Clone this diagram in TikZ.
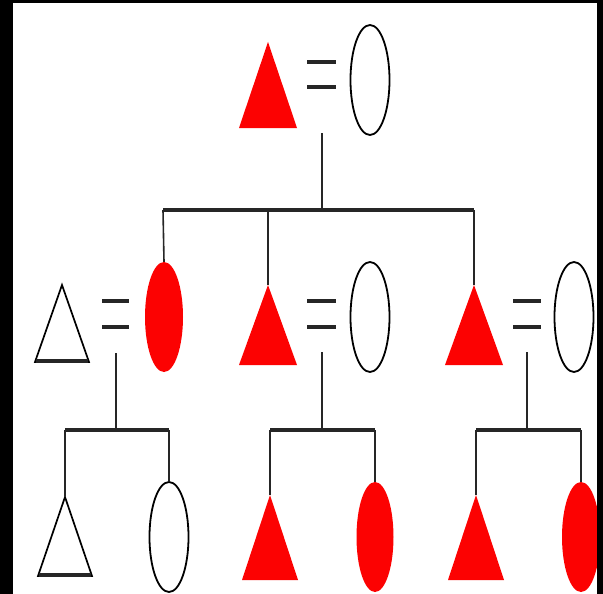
\documentclass[tikz,border=0pt]{standalone}
\usetikzlibrary{shapes.geometric}
\definecolor{pedred}{RGB}{252,2,2}
\begin{document}
\begin{tikzpicture}[x=1pt,y=-1pt,
  female/.style={ellipse,inner sep=0pt,minimum width=39pt,minimum height=110pt},
  fem-aff/.style={female,fill=pedred},
  fem-un/.style={female,draw=black,line width=1.8pt,fill=white},
  conn/.style={draw=black!85,line width=1.6pt},
  sibbar/.style={draw=black!85,line width=3.8pt},
  eqbar/.style={draw=black!85,line width=4.8pt},
  maleaff/.style={fill=pedred},
  maleun/.style={draw=black,line width=1.7pt,fill=white,line join=miter},
  basebar/.style={draw=black!85,line width=3.5pt}]
% frame
\fill[black] (0,0) rectangle (603,594);
\fill[white] (13,3) rectangle (597,594);
\useasboundingbox (0,0) rectangle (603,594);

% ---------- generation 1 ----------
\coordinate (g1m) at (268,42);
\fill[maleaff] (g1m) -- ++(29,86) -- ++(-58,0) -- cycle;
\draw[eqbar] (307,62) -- (336,62) (307,87) -- (336,87);
\node[fem-un] (g1f) at (370,80) {};
\coordinate (g1d) at (322,133);
\coordinate (g1bar) at (322,210);
\draw[conn] (g1d) -- (g1bar);
\coordinate (bl1) at (163,210);
\coordinate (br1) at (474,210);
\draw[sibbar] (bl1) -- (br1);

% ---------- generation 2 ----------
% left couple
\coordinate (g2am) at (62,285);
\filldraw[maleun] (g2am) -- ++(27,77) -- ++(-54,0) -- cycle;
\draw[basebar] (36,361) -- (88,361);
\draw[eqbar] (102,301) -- (129,301) (102,327) -- (129,327);
\node[fem-aff,minimum width=38pt] (g2af) at (164,317) {};
% middle couple
\coordinate (g2bm) at (268,285);
\fill[maleaff] (g2bm) -- ++(29,80) -- ++(-58,0) -- cycle;
\draw[eqbar] (307,301) -- (336,301) (307,327) -- (336,327);
\node[fem-un] (g2bf) at (370,317) {};
% right couple
\coordinate (g2cm) at (474,285);
\fill[maleaff] (g2cm) -- ++(29,80) -- ++(-58,0) -- cycle;
\draw[eqbar] (513,301) -- (541,301) (513,327) -- (541,327);
\node[fem-un] (g2cf) at (574,317) {};

\draw[conn] (bl1) -- (g2af.north);
\draw[conn] (268,210) -- (g2bm);
\draw[conn] (br1) -- (g2cm);

% ---------- generation 3 ----------
% left family
\coordinate (d2a) at (116,353);
\coordinate (b2a) at (116,430);
\draw[conn] (d2a) -- (b2a);
\coordinate (b2al) at (65,430);
\coordinate (b2ar) at (169,430);
\draw[sibbar] (b2al) -- (b2ar);
\coordinate (g3am) at (65,497);
\filldraw[maleun] (g3am) -- ++(27,79) -- ++(-54,0) -- cycle;
\draw[basebar] (39,575) -- (91,575);
\node[fem-un] (g3af) at (169,537) {};
\draw[conn] (b2al) -- (g3am);
\draw[conn] (b2ar) -- (g3af.north);

% middle family
\coordinate (d2b) at (322,352);
\coordinate (b2b) at (322,430);
\draw[conn] (d2b) -- (b2b);
\coordinate (b2bl) at (270,430);
\coordinate (b2br) at (375,430);
\draw[sibbar] (b2bl) -- (b2br);
\coordinate (g3bm) at (270,495);
\fill[maleaff] (g3bm) -- ++(28,85) -- ++(-56,0) -- cycle;
\node[fem-aff,minimum width=37pt] (g3bf) at (375,537) {};
\draw[conn] (b2bl) -- (g3bm);
\draw[conn] (b2br) -- (g3bf.north);

% right family
\coordinate (d2c) at (527,352);
\coordinate (b2c) at (527,430);
\draw[conn] (d2c) -- (b2c);
\coordinate (b2cl) at (476,430);
\coordinate (b2cr) at (581,430);
\draw[sibbar] (b2cl) -- (b2cr);
\coordinate (g3cm) at (476,495);
\fill[maleaff] (g3cm) -- ++(28,85) -- ++(-56,0) -- cycle;
\node[fem-aff,minimum width=38pt] (g3cf) at (581,537) {};
\draw[conn] (b2cl) -- (g3cm);
\draw[conn] (b2cr) -- (g3cf.north);

% frame overlay
\fill[black] (597,0) rectangle (603,594);
\fill[black] (0,0) rectangle (13,594);
\fill[black] (0,0) rectangle (603,3);
\end{tikzpicture}
\end{document}
